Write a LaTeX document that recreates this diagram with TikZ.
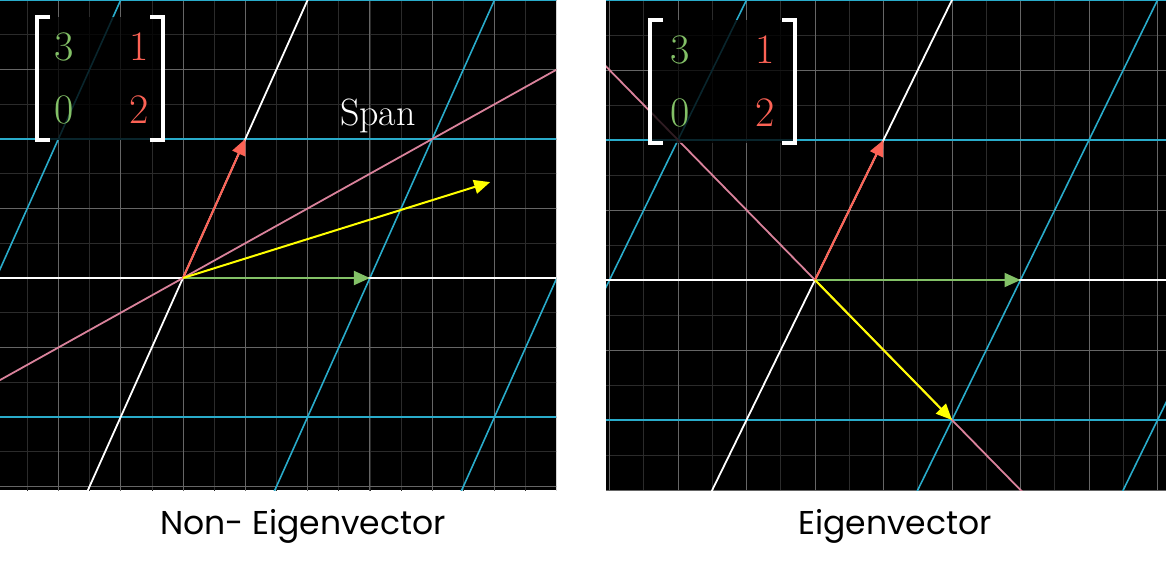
\documentclass[tikz,border=0pt]{standalone}
\usepackage{fontspec}
\newfontfamily\capfont{Poppins}
\usetikzlibrary{arrows.meta}
\definecolor{gG}{HTML}{83C167}
\definecolor{rR}{HTML}{FC6255}
\definecolor{bB}{HTML}{29ABCA}
\definecolor{pP}{HTML}{D9829B}
\definecolor{yY}{HTML}{FFFF00}
\tikzset{
  fine/.style={draw=white!17!black,line width=0.7pt},
  coarse/.style={draw=white!40!black,line width=0.9pt},
  tgrid/.style={draw=bB,line width=1.6pt},
  axisw/.style={draw=white,line width=1.8pt},
  spanl/.style={draw=pP,line width=1.8pt},
  vec/.style={line width=2pt,-{Triangle[length=16pt,width=14pt]}},
  brk/.style={draw=white,line width=3.5pt},
  num/.style={font=\fontsize{42}{42}\selectfont,inner sep=0pt},
  captext/.style={font=\capfont\fontsize{33}{36}\selectfont,text=black}
}
\newcommand{\panelgrid}{%
  \foreach \i in {-8,...,16} \draw[fine] (\i/2,-5) -- (\i/2,6);
  \foreach \j in {-10,...,12} \draw[fine] (-5,\j/2) -- (9,\j/2);
  \foreach \i in {-5,...,8} \draw[coarse] (\i,-5) -- (\i,6);
  \foreach \j in {-5,...,6} \draw[coarse] (-5,\j) -- (9,\j);
  \foreach \j in {-3,-2,-1,1,2,3} \draw[tgrid] (-5,2*\j) -- (9,2*\j);
  \foreach \k in {-3,-2,-1,1,2,3} \draw[tgrid] (3*\k-3,-6) -- (3*\k+3,6);
  \draw[axisw] (-5,0) -- (9,0);
  \draw[axisw] (-3,-6) -- (3,6);
}
\begin{document}
\begin{tikzpicture}[x=1pt,y=-1pt]
\useasboundingbox (0,0) rectangle (1166,569);
\fill[white] (0,0) rectangle (1166,569);
% left panel
\begin{scope}
\clip (0,0) rectangle (556,490);
\fill[black] (0,0) rectangle (556,490);
\begin{scope}[shift={(183,278)},x={(62.3pt,0pt)},y={(0pt,69.5pt)}]
\panelgrid
\coordinate (o) at (0,0);
\coordinate (sa) at (-6,-3); \coordinate (sb) at (10,5);
\draw[spanl] (sa) -- (sb);
\coordinate (g) at (3,0); \coordinate (r) at (1,2); \coordinate (yv) at (4.93,1.38);
\draw[vec,gG] (o) -- (g);
\draw[vec,rR] (o) -- (r);
\draw[vec,yY] (o) -- (yv);
\end{scope}
\node[font=\fontsize{38}{38}\selectfont,text=white,inner sep=0pt] (span) at (378,116) {Span};
\fill[black,opacity=0.78] (37,17) rectangle (163,140);
\draw[brk] (50,17) -- (37,17) -- (37,140) -- (50,140);
\draw[brk] (150,17) -- (163,17) -- (163,140) -- (150,140);
\node[num,text=gG] (a11) at (64,47) {3};
\node[num,text=rR] (a12) at (139,47) {1};
\node[num,text=gG] (a21) at (64,110) {0};
\node[num,text=rR] (a22) at (139,110) {2};
\end{scope}
% right panel
\begin{scope}
\clip (606,0) rectangle (1166,490);
\fill[black] (606,0) rectangle (1166,490);
\begin{scope}[shift={(815,280)},x={(68.5pt,0pt)},y={(0pt,70pt)}]
\panelgrid
\coordinate (o2) at (0,0);
\coordinate (sc) at (-6,6); \coordinate (sd) at (6,-6);
\draw[spanl] (sc) -- (sd);
\coordinate (g2) at (3,0); \coordinate (r2) at (1,2); \coordinate (y2) at (2,-2);
\draw[vec,gG] (o2) -- (g2);
\draw[vec,rR] (o2) -- (r2);
\draw[vec,yY] (o2) -- (y2);
\end{scope}
\fill[black,opacity=0.78] (650,20) rectangle (795,143);
\draw[brk] (663,20) -- (650,20) -- (650,143) -- (663,143);
\draw[brk] (782,20) -- (795,20) -- (795,143) -- (782,143);
\node[num,text=gG] (b11) at (680,50) {3};
\node[num,text=rR] (b12) at (765,50) {1};
\node[num,text=gG] (b21) at (680,113) {0};
\node[num,text=rR] (b22) at (765,113) {2};
\end{scope}
\node[captext] (c1) at (303,526) {Non- Eigenvector};
\node[captext] (c2) at (895,526) {Eigenvector};
\end{tikzpicture}
\end{document}
